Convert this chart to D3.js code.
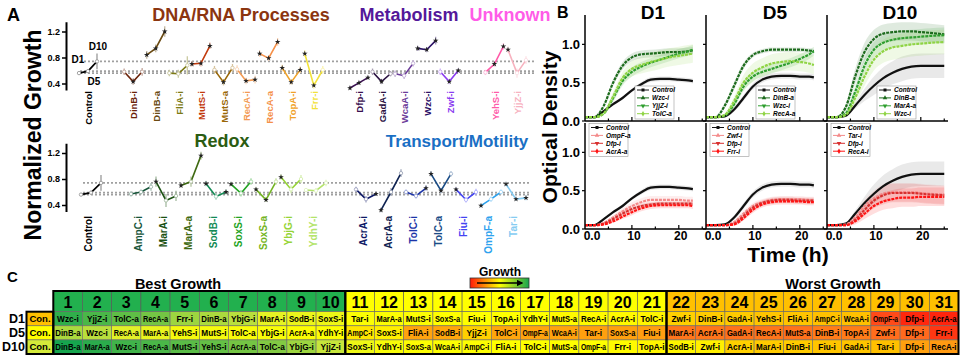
<!DOCTYPE html>
<html>
<head>
<meta charset="utf-8">
<script src="https://cdn.jsdelivr.net/npm/d3@7"></script>
<style>
  body { margin: 0; background: #fff; }
  svg { font-family: "Liberation Sans", Arial, sans-serif; font-weight: bold; }
</style>
</head>
<body>
<svg id="fig" width="963" height="363"></svg>
<script>
// ---------------- Panel A data ----------------
var topCats = ["Control","DinB-i","DinB-a","FliA-i","MutS-i","MutS-a","RecA-i","RecA-a","TopA-i","Frr-i",
               "Dfp-i","GadA-i","WcaA-i","Wzc-i","Zwf-i","YehS-i","YjjZ-i"];
var topGroup = [0,1,1,1,1,1,1,1,1,1,2,2,2,2,2,3,3];
var topColors = ["#000000","#6b2208","#6a4a12","#7c7a14","#c23a0c","#9a6808","#f39a52","#f59048","#f0a22a","#f2e23a",
                 "#3a1050","#2b1242","#6a3a98","#2c1266","#8a3cf0","#ff5aa8","#f7b2bf"];
var topGrowth = [[0.56,0.59,0.74],[0.58,0.43,0.58],[0.84,0.94,1.20],[0.56,0.55,0.68],[0.70,0.71,0.98],
                 [0.61,0.42,0.64],[0.62,0.44,0.46],[0.86,0.79,1.04],[0.64,0.42,0.61],[0.86,0.37,0.61],
                 [0.33,0.41,0.49],[0.58,0.43,0.55],[0.55,0.52,0.71],[0.94,0.92,1.06],[0.58,0.43,0.60],
                 [0.57,0.70,0.97],[0.92,0.56,0.76]];
var topErr = [[.02,.03,.12],[.05,.05,.06],[.06,.06,.08],[.05,.06,.14],[.04,.05,.05],[.06,.05,.06],[.06,.05,.06],
              [.05,.04,.06],[.05,.04,.05],[.05,.05,.06],[.03,.03,.03],[.05,.04,.04],[.05,.05,.05],[.04,.04,.06],
              [.05,.04,.03],[.04,.04,.05],[.05,.07,.06]];
var topSig = [[0,0,0],[0,1,0],[1,1,1],[0,0,0],[1,1,1],[0,1,0],[0,1,1],[1,1,1],[1,1,1],[1,1,0],
              [1,1,1],[0,1,0],[0,0,0],[1,1,1],[0,1,1],[0,1,1],[1,0,0]];

var botCats = ["Control","AmpC-i","MarA-i","MarA-a","SodB-i","SoxS-i","SoxS-a","YbjG-i","YdhY-i",
               "AcrA-i","AcrA-a","TolC-i","TolC-a","Fiu-i","OmpF-a","Tar-i"];
var botGroup = [0,1,1,1,1,1,1,1,1,2,2,2,2,2,2,2];
var botColors = ["#000000","#17553a","#1b5212","#3f6a12","#138a55","#23a323","#74b424","#96d436","#b4e46a",
                 "#0f1a66","#0f2352","#1c34a8","#1a4c86","#4444f2","#2ea2ee","#86ccf2"];
var botGrowth = [[0.56,0.59,0.74],[0.57,0.60,0.68],[0.76,0.47,0.54],[0.70,0.76,1.16],[0.73,0.53,0.60],
                 [0.72,0.58,0.76],[0.64,0.48,0.76],[0.83,0.64,0.80],[0.63,0.62,0.74],[0.64,0.49,0.57],
                 [0.32,0.60,0.89],[0.60,0.54,0.66],[0.88,0.62,0.88],[0.64,0.48,0.60],[0.39,0.49,0.60],
                 [0.72,0.49,0.51]];
var botErr = [[.02,.03,.12],[.04,.04,.06],[.08,.10,.08],[.03,.08,.06],[.04,.05,.04],[.03,.05,.05],[.03,.03,.05],
              [.04,.06,.06],[.03,.04,.05],[.04,.05,.03],[.03,.06,.06],[.04,.04,.04],[.04,.04,.04],[.03,.04,.05],
              [.03,.04,.04],[.03,.03,.04]];
var botSig = [[0,0,0],[0,0,0],[1,0,0],[1,0,1],[1,0,1],[1,0,0],[1,1,0],[1,0,0],[0,0,0],[0,0,1],
              [1,0,0],[0,0,1],[1,1,0],[1,0,0],[1,0,0],[1,1,1]];

var groupTitles = ["DNA/RNA Processes","Metabolism","Unknown","Redox","Transport/Motility"];
var groupTitleColors = ["#8b3510","#54189a","#ff5ce8","#2b5c12","#1a6fc4"];

// ---------------- Panel B data (growth curves) ----------------
var hoursShort = [0,2,4,6,8,10,12,14,16,18,20,22,23];
var hoursLong  = [0,2,4,6,8,10,12,14,16,18,20,22,25];

var d1Control = [.05,.05,.13,.22,.30,.40,.48,.54,.55,.55,.54,.53,.52];
var d1Wzc     = [.05,.05,.20,.50,.72,.83,.87,.88,.89,.90,.90,.91,.92];
var d1YjjZ    = [.05,.05,.10,.30,.52,.64,.71,.76,.80,.84,.88,.91,.93];
var d1TolC    = [.05,.05,.10,.32,.56,.68,.73,.77,.80,.83,.85,.87,.88];
var d1OmpF    = [.05,.05,.08,.15,.23,.30,.35,.38,.38,.38,.38,.37,.37];
var d1Dfp     = [.05,.05,.07,.13,.20,.26,.30,.32,.33,.33,.33,.33,.33];
var d1AcrA    = [.05,.05,.06,.10,.16,.22,.27,.30,.31,.31,.31,.31,.30];

var d5Control = [.05,.05,.06,.15,.30,.45,.54,.58,.59,.59,.58,.58,.57];
var d5DinB    = [.05,.05,.20,.46,.72,.86,.91,.93,.93,.93,.93,.92,.91];
var d5Wzc     = [.05,.05,.07,.22,.45,.58,.64,.68,.72,.76,.81,.87,.91];
var d5RecA    = [.05,.05,.08,.26,.50,.63,.70,.75,.77,.78,.77,.75,.73];
var d5Zwf     = [.05,.05,.05,.09,.20,.30,.35,.38,.39,.39,.39,.38,.38];
var d5Dfp     = [.05,.05,.05,.07,.17,.28,.34,.37,.38,.38,.37,.37,.37];
var d5Frr     = [.05,.05,.05,.06,.14,.25,.32,.35,.36,.36,.36,.35,.35];

var d10Control = [.05,.05,.07,.20,.34,.46,.56,.63,.68,.71,.72,.72,.72];
var d10DinB    = [.05,.05,.18,.58,.90,1.07,1.14,1.16,1.17,1.17,1.16,1.15,1.13];
var d10MarA    = [.05,.05,.10,.38,.72,.93,1.02,1.06,1.08,1.09,1.10,1.11,1.12];
var d10Wzc     = [.05,.05,.08,.30,.58,.80,.91,.96,.98,1.00,1.01,1.02,1.03];
var d10Tar     = [.05,.05,.06,.15,.30,.40,.46,.48,.48,.48,.47,.46,.45];
var d10Dfp     = [.05,.05,.05,.12,.25,.37,.44,.47,.47,.47,.46,.45,.44];
var d10RecA    = [.05,.05,.05,.10,.20,.30,.36,.39,.41,.41,.42,.42,.42];

var eD1Control = [0,0,.01,.02,.02,.02,.03,.03,.03,.03,.03,.03,.03];
var eD1Wzc     = [0,0,.02,.04,.05,.05,.05,.05,.05,.05,.05,.05,.05];
var eD1YjjZ    = [0,0,.02,.05,.06,.06,.06,.06,.06,.06,.06,.06,.06];
var eD1TolC    = [0,0,.02,.06,.08,.10,.11,.12,.12,.12,.12,.12,.12];
var eD1OmpF    = [0,0,.01,.03,.04,.05,.05,.05,.05,.05,.05,.05,.05];
var eD1Dfp     = [0,0,.01,.02,.03,.03,.03,.03,.03,.03,.03,.03,.03];
var eD1AcrA    = [0,0,.01,.02,.03,.04,.04,.04,.04,.04,.04,.04,.04];
var eD5Control = [0,0,.01,.03,.04,.04,.04,.04,.04,.04,.04,.04,.04];
var eD5DinB    = [0,0,.03,.05,.04,.03,.03,.03,.03,.03,.03,.03,.03];
var eD5Wzc     = [0,0,.02,.05,.06,.06,.06,.06,.06,.06,.06,.06,.06];
var eD5RecA    = [0,0,.02,.06,.10,.12,.12,.12,.12,.12,.12,.12,.12];
var eD5Zwf     = [0,0,0,.02,.04,.04,.04,.04,.04,.04,.04,.04,.04];
var eD5Dfp     = [0,0,0,.02,.04,.04,.04,.04,.04,.04,.04,.04,.04];
var eD5Frr     = [0,0,0,.02,.03,.04,.04,.04,.04,.04,.04,.04,.04];
var eD10Control = [0,0,.01,.04,.08,.12,.14,.15,.16,.16,.16,.16,.16];
var eD10DinB    = [0,0,.04,.10,.12,.12,.12,.12,.12,.12,.12,.12,.12];
var eD10MarA    = [0,0,.03,.08,.10,.10,.10,.10,.10,.10,.10,.10,.10];
var eD10Wzc     = [0,0,.03,.08,.12,.14,.15,.16,.16,.16,.16,.16,.16];
var eD10Tar     = [0,0,.01,.05,.08,.10,.12,.12,.12,.12,.12,.12,.12];
var eD10Dfp     = [0,0,.01,.04,.08,.10,.12,.12,.12,.12,.12,.12,.12];
var eD10RecA    = [0,0,.01,.04,.07,.10,.11,.12,.12,.12,.12,.12,.12];

var dayTitles = ["D1","D5","D10"];
var greenShades = ["#111111","#1d6b1d","#2e9e2e","#8fd444"];
var redShades = ["#111111","#f38a8a","#d8302f","#ff1414"];
var odTicks = [0, 0.5, 1.0];
var timeTicks = [0, 10, 20];
var timeTickLabels = ["0.0","10","20"];

// ---------------- Panel C data (ranking table) ----------------
var days = ["D1","D5","D10"];
var ranks = d3.range(1, 32);
var rankGroupEnds = [10, 21, 31];
var rankHeaderColors = ["#22b04e","#ffff00","#ffc000"];
var rankD1 = ["Wzc-i","YjjZ-i","TolC-a","RecA-a","Frr-i","DinB-a","YbjG-i","MarA-i","SodB-i","SoxS-i",
              "Tar-i","MarA-a","MutS-i","SoxS-a","Fiu-i","TopA-i","YdhY-i","MutS-a","RecA-i","AcrA-i","TolC-i",
              "Zwf-i","DinB-i","GadA-i","YehS-i","FliA-i","AmpC-i","WcaA-i","OmpF-a","Dfp-i","AcrA-a"];
var rankD5 = ["DinB-a","Wzc-i","RecA-a","MarA-a","YehS-i","MutS-i","TolC-a","YbjG-i","AcrA-a","YdhY-i",
              "AmpC-i","SoxS-i","FliA-i","SodB-i","YjjZ-i","TolC-i","OmpF-a","WcaA-i","Tar-i","SoxS-a","Fiu-i",
              "MarA-i","AcrA-i","GadA-i","RecA-i","MutS-a","DinB-i","TopA-i","Zwf-i","Dfp-i","Frr-i"];
var rankD10 = ["DinB-a","MarA-a","Wzc-i","RecA-a","MutS-i","YehS-i","AcrA-a","TolC-a","YbjG-i","YjjZ-i",
               "SoxS-i","YdhY-i","SoxS-a","WcaA-i","AmpC-i","FliA-i","TolC-i","MutS-a","OmpF-a","Frr-i","TopA-i",
               "SodB-i","Zwf-i","AcrA-i","MarA-i","DinB-i","Fiu-i","GadA-i","Tar-i","Dfp-i","RecA-i"];
var scoreD1 = [.95,.90,.86,.82,.76,.74,.72,.63,.61,.60, .56,.56,.56,.55,.55,.55,.55,.54,.54,.54,.53,
               .46,.45,.45,.44,.44,.43,.43, .10,.03,.02];
var scoreD5 = [.74,.72,.64,.62,.58,.58,.57,.57,.56,.56, .50,.52,.33,.34,.46,.34,.33,.33,.32,.32,.31,
               .20,.20,.19,.20,.19,.22,.22,.18,.17,.06];
var scoreD10 = [1.0,.96,.92,.90,.87,.85,.82,.80,.76,.70, .60,.57,.56,.56,.56,.55,.55,.55,.55,.54,.53,
                .53,.52,.46,.45,.45,.44,.44,.43,.32,.30];
var controlScore = [.43,.55,.68];

// ---------------- drawing ----------------
var FONT = "'Liberation Sans', Arial, sans-serif";
var svg = d3.select("#fig");

function txt(x, y, s, size, opts) {
    opts = opts || {};
    return svg.append("text").attr("x", x).attr("y", y).text(s)
        .attr("font-size", size).attr("font-weight", "bold")
        .attr("text-anchor", opts.anchor || "start")
        .attr("fill", opts.fill || "#000")
        .attr("font-style", opts.italic ? "italic" : null);
}

// panel letters
txt(7, 21, "A", 18);
txt(557, 18, "B", 16);
txt(7, 282, "C", 15);

// ---------- Panel A ----------
function strip(o) {
    var y = d3.scaleLinear().domain([0.3, 1.35]).range([o.y0, o.y0 - 1.05 * 65]);
    var slots = o.cats.map(function(c, i){ return i + o.group[i]; });
    var x = d3.scaleLinear().domain([0, d3.max(slots)]).range([o.x0, o.x1]);

    var axis = d3.axisLeft(y).tickValues([0.4, 0.8, 1.2]).tickFormat(d3.format(".1f"))
        .tickSize(4).tickSizeOuter(0);
    var ga = svg.append("g").attr("transform", "translate(66,0)").call(axis);
    ga.select(".domain").attr("stroke-width", 2);
    ga.selectAll(".tick line").attr("stroke-width", 1.5);
    ga.selectAll(".tick text").attr("font-size", 9).attr("font-weight", "bold")
        .attr("font-family", FONT).attr("x", -6);

    // control reference lines
    o.vals[0].forEach(function(v){
        svg.append("line").attr("x1", x(0) - 8).attr("x2", o.refEnd)
            .attr("y1", y(v)).attr("y2", y(v))
            .attr("stroke", "#a0a0a0").attr("stroke-width", 1.6).attr("stroke-dasharray", "2,2");
    });

    o.cats.forEach(function(c, i){
        var cx = x(slots[i]);
        var col = o.colors[i];
        var light = d3.interpolateRgb(col, "#ffffff")(0.6);
        var pts = o.vals[i].map(function(v, k){
            return {x: cx + (k - 1) * o.dx, y: y(v), lo: y(v - o.err[i][k]), hi: y(v + o.err[i][k]), sig: o.sig[i][k]};
        });
        pts.forEach(function(p){
            svg.append("line").attr("x1", p.x).attr("x2", p.x).attr("y1", p.lo).attr("y2", p.hi)
                .attr("stroke", light).attr("stroke-width", 1.3);
        });
        svg.append("path").attr("d", d3.line().x(function(p){return p.x;}).y(function(p){return p.y;})(pts))
            .attr("fill", "none").attr("stroke", col).attr("stroke-width", 1.6);
        pts.forEach(function(p){
            if (p.sig) {
                svg.append("path").attr("d", d3.symbol(d3.symbolStar, 10)())
                    .attr("transform", "translate(" + p.x + "," + p.y + ")").attr("fill", "#222");
            } else {
                svg.append("circle").attr("cx", p.x).attr("cy", p.y).attr("r", 1.7)
                    .attr("fill", "#fff").attr("stroke", light).attr("stroke-width", 0.9);
            }
        });
        svg.append("text").text(c)
            .attr("transform", "translate(" + (cx + o.lx) + "," + o.ly + ") rotate(-90)")
            .attr("text-anchor", "end").attr("dy", "0.35em")
            .attr("font-size", o.fs).attr("font-weight", "bold").attr("fill", col);
    });
    return {x: x, y: y, slots: slots};
}

var topStrip = strip({cats: topCats, group: topGroup, colors: topColors, vals: topGrowth, err: topErr, sig: topSig,
    y0: 90, x0: 88, x1: 517, dx: 9, lx: 1, ly: 91, fs: 9.5, refEnd: 536});
var botStrip = strip({cats: botCats, group: botGroup, colors: botColors, vals: botGrowth, err: botErr, sig: botSig,
    y0: 211.5, x0: 91, x1: 516, dx: 10, lx: -3, ly: 216, fs: 10, refEnd: 530});

// D labels next to the control curve
(function(){
    var cx = topStrip.x(0), y = topStrip.y;
    txt(cx - 10, y(topGrowth[0][0]) - 10, "D1", 10, {anchor: "middle"});
    txt(cx + 6, y(topGrowth[0][1]) + 14, "D5", 10, {anchor: "middle"});
    txt(cx + 10, y(topGrowth[0][2]) - 11, "D10", 10, {anchor: "middle"});
})();

txt(241, 21, groupTitles[0], 18, {anchor: "middle", fill: groupTitleColors[0]});
txt(409, 21, groupTitles[1], 18, {anchor: "middle", fill: groupTitleColors[1]});
txt(510, 21, groupTitles[2], 18, {anchor: "middle", fill: groupTitleColors[2]});
txt(222, 147, groupTitles[3], 18, {anchor: "middle", fill: groupTitleColors[3]});
txt(457, 147, groupTitles[4], 17, {anchor: "middle", fill: groupTitleColors[4]});

svg.append("text").text("Normalized Growth")
    .attr("transform", "translate(41,135) rotate(-90)").attr("text-anchor", "middle")
    .attr("font-size", 23).attr("font-weight", "bold");

// ---------- Panel B ----------
var bCols = [
    {left: 585, hours: hoursShort,
     top: [["Control", d1Control, eD1Control], ["Wzc-i", d1Wzc, eD1Wzc], ["YjjZ-i", d1YjjZ, eD1YjjZ], ["TolC-a", d1TolC, eD1TolC]],
     bot: [["Control", d1Control, eD1Control], ["OmpF-a", d1OmpF, eD1OmpF], ["Dfp-i", d1Dfp, eD1Dfp], ["AcrA-a", d1AcrA, eD1AcrA]]},
    {left: 706, hours: hoursShort,
     top: [["Control", d5Control, eD5Control], ["DinB-a", d5DinB, eD5DinB], ["Wzc-i", d5Wzc, eD5Wzc], ["RecA-a", d5RecA, eD5RecA]],
     bot: [["Control", d5Control, eD5Control], ["Zwf-i", d5Zwf, eD5Zwf], ["Dfp-i", d5Dfp, eD5Dfp], ["Frr-i", d5Frr, eD5Frr]]},
    {left: 827, hours: hoursLong,
     top: [["Control", d10Control, eD10Control], ["DinB-a", d10DinB, eD10DinB], ["MarA-a", d10MarA, eD10MarA], ["Wzc-i", d10Wzc, eD10Wzc]],
     bot: [["Control", d10Control, eD10Control], ["Tar-i", d10Tar, eD10Tar], ["Dfp-i", d10Dfp, eD10Dfp], ["RecA-i", d10RecA, eD10RecA]]}
];
var symbols = [d3.symbolSquare, d3.symbolTriangle, d3.symbolTriangle, d3.symbolDiamond];

function curvePanel(left, hours, series, colors, yTop, yBot, showY, showX, legend) {
    var x = d3.scaleLinear().domain([0, 25.8]).range([left, left + 121]);
    var y = d3.scaleLinear().domain([0, 1.37]).range([yBot, yTop]);
    var g = svg.append("g");
    series.forEach(function(s, i){
        var rows = hours.map(function(h, k){ return {t: h, v: s[1][k], e: s[2][k]}; });
        g.append("path").attr("d", d3.area().curve(d3.curveMonotoneX)
                .x(function(d){return x(d.t);}).y0(function(d){return y(d.v - d.e);}).y1(function(d){return y(d.v + d.e);})(rows))
            .attr("fill", i === 0 ? "#c8c8c8" : colors[i]).attr("fill-opacity", i === 0 ? 0.4 : 0.14);
    });
    series.forEach(function(s, i){
        var rows = hours.map(function(h, k){ return {t: h, v: s[1][k]}; });
        g.append("path").attr("d", d3.line().curve(d3.curveMonotoneX)
                .x(function(d){return x(d.t);}).y(function(d){return y(d.v);})(rows))
            .attr("fill", "none").attr("stroke", colors[i]).attr("stroke-width", 2.2)
            .attr("stroke-dasharray", i === 0 ? null : "3,1");
    });
    // frame lines
    g.append("line").attr("x1", left).attr("x2", left).attr("y1", yTop - 1).attr("y2", yBot).attr("stroke", "#000").attr("stroke-width", 1.5);
    g.append("line").attr("x1", left).attr("x2", left + 121).attr("y1", yBot).attr("y2", yBot).attr("stroke", "#000").attr("stroke-width", 1.5);
    odTicks.forEach(function(t){
        g.append("line").attr("x1", left - 3).attr("x2", left).attr("y1", y(t)).attr("y2", y(t)).attr("stroke", "#000").attr("stroke-width", 1.2);
        if (showY) txt(left - 5, y(t) + 4.5, d3.format(".1f")(t), 13, {anchor: "end"});
    });
    [5, 10, 15, 20, 25].forEach(function(t){
        g.append("line").attr("x1", x(t)).attr("x2", x(t)).attr("y1", yBot).attr("y2", yBot - (t % 10 === 0 ? 4 : 2.5))
            .attr("stroke", "#000").attr("stroke-width", 1.2);
    });
    if (showX) {
        timeTicks.forEach(function(t, i){
            txt(x(t) + (t === 0 ? 7 : 2), yBot + 11, timeTickLabels[i], 12, {anchor: "middle"});
        });
    }
    // legend
    var L = legend;
    g.append("rect").attr("x", left + L.bx).attr("y", L.by).attr("width", 39).attr("height", 33)
        .attr("fill", "#fff").attr("stroke", "#999").attr("stroke-width", 0.6);
    series.forEach(function(s, i){
        var ly = L.by + 4 + i * 7.9;
        g.append("line").attr("x1", left + L.bx + 2).attr("x2", left + L.bx + 14).attr("y1", ly).attr("y2", ly)
            .attr("stroke", colors[i]).attr("stroke-width", 1);
        g.append("path").attr("d", d3.symbol(symbols[i], 9)())
            .attr("transform", "translate(" + (left + L.bx + 8) + "," + ly + ")" + (i === 2 ? " rotate(180)" : ""))
            .attr("fill", colors[i]);
        txt(left + L.bx + 17, ly + 2.3, s[0], 6.5, {italic: true});
    });
}

bCols.forEach(function(c, ci){
    curvePanel(c.left, c.hours, c.top, greenShades, 16, 121, ci === 0, false, {bx: 50, by: 86});
    curvePanel(c.left, c.hours, c.bot, redShades, 124, 229, ci === 0, true, {bx: 4, by: 123.5});
    txt(c.left + [68, 69, 73][ci], 18.5, dayTitles[ci], 19, {anchor: "middle"});
});

svg.append("text").text("Optical Density")
    .attr("transform", "translate(557,127) rotate(-90)").attr("text-anchor", "middle")
    .attr("font-size", 21).attr("font-weight", "bold");
txt(788, 262, "Time (h)", 21, {anchor: "middle"});

// ---------- Panel C ----------
var heat = d3.scaleLinear()
    .domain([0, .15, .3, .43, .55, .68, .82, 1])
    .range(["#ff1a0a","#ff6220","#ff9a12","#ffc000","#ffff00","#d4ea3a","#74c544","#16a54e"]);
var xC = d3.scaleBand().domain(ranks).range([53.3, 958.5]);
var yC = d3.scaleBand().domain(days).range([311.7, 354]);
var hdrTop = 291;
var rankNames = [rankD1, rankD5, rankD10];
var rankScores = [scoreD1, scoreD5, scoreD10];

function groupOf(r) {
    for (var i = 0; i < rankGroupEnds.length; i++) if (r <= rankGroupEnds[i]) return i;
    return rankGroupEnds.length - 1;
}

ranks.forEach(function(r){
    svg.append("rect").attr("x", xC(r)).attr("y", hdrTop).attr("width", xC.bandwidth()).attr("height", yC.range()[0] - hdrTop)
        .attr("fill", rankHeaderColors[groupOf(r)]).attr("stroke", "#555").attr("stroke-width", 0.6);
    txt(xC(r) + xC.bandwidth() / 2, 307.5, r, 16, {anchor: "middle"});
});

function fitText(t, maxW) {
    var w = t.node().getComputedTextLength();
    if (w > maxW) t.attr("textLength", maxW).attr("lengthAdjust", "spacingAndGlyphs");
}

days.forEach(function(d, di){
    var yy = yC(d), h = yC.bandwidth();
    ranks.forEach(function(r, ri){
        svg.append("rect").attr("x", xC(r)).attr("y", yy).attr("width", xC.bandwidth()).attr("height", h)
            .attr("fill", heat(rankScores[di][ri])).attr("stroke", "#6a6a6a").attr("stroke-width", 0.6);
        var t = txt(xC(r) + xC.bandwidth() / 2, yy + h / 2 + 3, rankNames[di][ri], 8.3, {anchor: "middle"});
        fitText(t, xC.bandwidth() - 4);
    });
    svg.append("rect").attr("x", 26.5).attr("y", yy).attr("width", 53.3 - 26.5).attr("height", h)
        .attr("fill", heat(controlScore[di])).attr("stroke", "#6a6a6a").attr("stroke-width", 0.6);
    txt(40, yy + h / 2 + 3.3, "Con.", 9.5, {anchor: "middle"});
    txt(25, yy + h / 2 + 4.5, d, 12.5, {anchor: "end"});
});

// thick frames
var starts = [1, rankGroupEnds[0] + 1, rankGroupEnds[1] + 1];
starts.forEach(function(s, i){
    var e = rankGroupEnds[i];
    svg.append("rect").attr("x", xC(s)).attr("y", hdrTop).attr("width", xC(e) + xC.bandwidth() - xC(s))
        .attr("height", yC.range()[1] - hdrTop).attr("fill", "none").attr("stroke", "#000").attr("stroke-width", 2);
});
svg.append("rect").attr("x", 26.5).attr("y", yC.range()[0]).attr("width", 53.3 - 26.5)
    .attr("height", yC.range()[1] - yC.range()[0]).attr("fill", "none").attr("stroke", "#000").attr("stroke-width", 2);

txt(178, 289, "Best Growth", 14.5, {anchor: "middle"});
txt(833, 289, "Worst Growth", 14.5, {anchor: "middle"});

// growth legend bar
var defs = svg.append("defs");
var grad = defs.append("linearGradient").attr("id", "growthGrad");
grad.append("stop").attr("offset", "0%").attr("stop-color", "#ff1a0a");
grad.append("stop").attr("offset", "50%").attr("stop-color", "#ffff00");
grad.append("stop").attr("offset", "100%").attr("stop-color", "#16a54e");
defs.append("marker").attr("id", "arr").attr("viewBox", "0 0 10 10").attr("refX", 8).attr("refY", 5)
    .attr("markerWidth", 5).attr("markerHeight", 5).attr("orient", "auto")
    .append("path").attr("d", "M0,0L10,5L0,10z").attr("fill", "#000");
svg.append("rect").attr("x", 470).attr("y", 278).attr("width", 59).attr("height", 10)
    .attr("fill", "url(#growthGrad)").attr("stroke", "#333").attr("stroke-width", 0.8);
svg.append("line").attr("x1", 477).attr("x2", 522).attr("y1", 283).attr("y2", 283)
    .attr("stroke", "#000").attr("stroke-width", 1.3).attr("marker-end", "url(#arr)");
txt(500, 276, "Growth", 12, {anchor: "middle"});
</script>
</body>
</html>
